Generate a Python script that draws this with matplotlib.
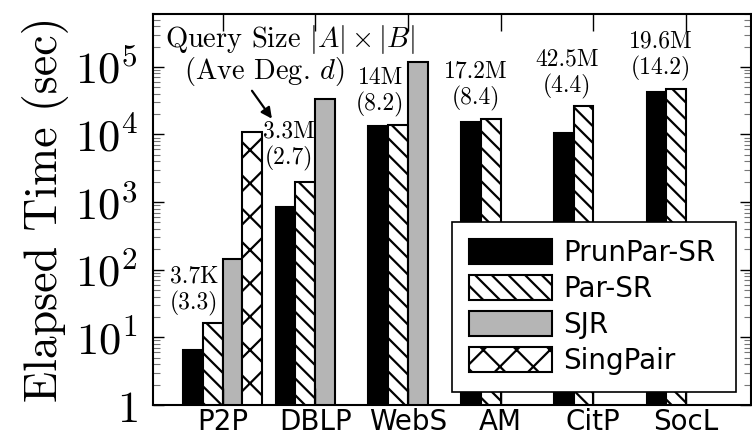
import numpy as np
import matplotlib
matplotlib.use("Agg")
import matplotlib.pyplot as plt

plt.rcParams["mathtext.fontset"] = "cm"
plt.rcParams["hatch.linewidth"] = 1.6
plt.rcParams["axes.unicode_minus"] = False

# ── data ──
datasets = ["P2P", "DBLP", "WebS", "AM", "CitP", "SocL"]
methods = ["PrunPar-SR", "Par-SR", "SJR", "SingPair"]
prunpar_sr = [6.5, 850, 1.35e4, 1.55e4, 1.05e4, 4.3e4]
par_sr = [16, 2000, 1.4e4, 1.7e4, 2.65e4, 4.7e4]
sjr = [145, 3.4e4, 1.18e5, np.nan, np.nan, np.nan]
singpair = [1.1e4, np.nan, np.nan, np.nan, np.nan, np.nan]
query_size = ["3.7K", "3.3M", "14M", "17.2M", "42.5M", "19.6M"]
avg_deg = ["3.3", "2.7", "8.2", "8.4", "4.4", "14.2"]
ytick_vals = [1, 10, 100, 1e3, 1e4, 1e5]
ytick_labels = ["$1$", "$10^1$", "$10^2$", "$10^3$", "$10^4$", "$10^5$"]

series = [prunpar_sr, par_sr, sjr, singpair]
styles = [
    dict(color="black", edgecolor="black"),
    dict(color="white", edgecolor="black", hatch="\\\\"),
    dict(color="#b5b5b5", edgecolor="black"),
    dict(color="white", edgecolor="black", hatch="x"),
]

fig = plt.figure(figsize=(7.52, 4.42), dpi=100)
ax = fig.add_axes([0.2035, 0.084, 0.795, 0.884])

x = np.arange(len(datasets))
w = 0.213
for i, (vals, st) in enumerate(zip(series, styles)):
    ax.bar(x + (i - 1.5) * w, vals, w, label=methods[i], linewidth=1.5, **st)

ax.set_yscale("log")
ax.set_ylim(1, 10 ** 5.78)
ax.set_xlim(-0.75, 5.7)
ax.set_yticks(ytick_vals)
ax.set_yticklabels(ytick_labels, fontsize=32)
ax.set_xticks(x)
ax.set_xticklabels(datasets, fontsize=20)
ax.tick_params(axis="y", which="major", direction="in", length=8, width=1,
               right=True, pad=11)
ax.tick_params(axis="y", which="minor", direction="in", length=5, width=0.8,
               right=True, color="#777777")
ax.tick_params(axis="x", direction="in", length=12, width=1, top=True, pad=2)
for s in ax.spines.values():
    s.set_linewidth(1.5)

ax.set_ylabel("Elapsed Time (sec)", family="cmr10", fontsize=33, labelpad=4)

# query size / average degree labels above each group
label_pos = [(-0.31, 1.69), (0.72, 3.83), (1.70, 4.63),
             (2.73, 4.72), (3.72, 4.90), (4.73, 5.17)]
for (lx, ly), qs, d in zip(label_pos, query_size, avg_deg):
    ax.text(lx, 10 ** ly, f"{qs}\n({d})", family="cmr10", fontsize=17,
            ha="center", va="center", linespacing=1.2)

ax.text(0.73, 10 ** 5.40, r"Query Size $|A| \times |B|$", family="cmr10",
        fontsize=20.5, ha="center", va="center")
ax.text(0.45, 10 ** 4.93, r"(Ave Deg. $d$)", family="cmr10",
        fontsize=20.5, ha="center", va="center")
ax.annotate("", xy=(0.55, 10 ** 4.2), xytext=(0.30, 10 ** 4.68),
            arrowprops=dict(arrowstyle="-|>", color="black", lw=1.6,
                            mutation_scale=16))

leg = ax.legend(loc="lower left", bbox_to_anchor=(0.5, 0.033, 0.475, 0.2),
                mode="expand", prop=dict(size=20), fancybox=False,
                framealpha=1, edgecolor="black", handlelength=3.0,
                handleheight=1.0, labelspacing=0.29, borderpad=0.6,
                handletextpad=0.4, borderaxespad=0)
leg.get_frame().set_linewidth(1.2)

fig.savefig("out.png", dpi=100)
